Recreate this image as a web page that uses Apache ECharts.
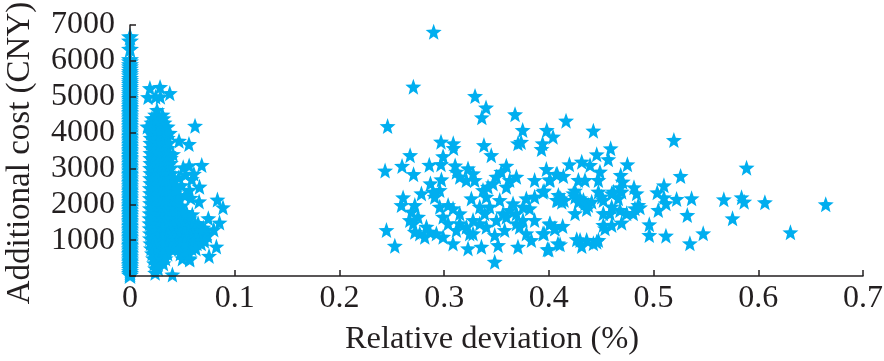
<!DOCTYPE html>
<html><head><meta charset="utf-8">
<style>html,body{margin:0;padding:0;background:#fff}#c{width:884px;height:361px}</style>
<script src="https://cdn.jsdelivr.net/npm/echarts@6/dist/echarts.min.js"></script>
</head><body><div id="c"></div>
<script>
const xTicks = [0,0.1,0.2,0.3,0.4,0.5,0.6,0.7];
const yTicks = [1000,2000,3000,4000,5000,6000,7000];
const zeroCosts = [6680,6560,6330,6040,5980,5900,5840,5780,5710,5650,5590,5520,5460,5400,5350,5290,5240,5180,5120,5070,5010,4960,4910,4860,4810,4760,4710,4670,4620,4570,4530,4480,4440,4390,4350,4300,4260,4210,4170,4120,4080,4030,3990,3940,3900,3850,3810,3770,3720,3680,3630,3590,3540,3500,3460,3410,3370,3320,3280,3240,3190,3150,3100,3060,3020,2970,2930,2880,2840,2800,2750,2710,2660,2620,2580,2530,2490,2440,2400,2360,2310,2270,2220,2180,2140,2090,2050,2000,1960,1920,1870,1830,1780,1740,1700,1650,1610,1560,1520,1480,1430,1390,1340,1300,1260,1210,1170,1120,1080,1040,990,950,900,860,820,770,730,680,640,600,550,510,460,420,380,330,290,240,190,130,80,30];
const blobRows = [
[5270,0.0287],[5240,0.019],[5100,0.038],[5000,0.0245,0.029],[4990,0.0172],
[4630,0.0258],[4500,0.024,0.031],[4400,0.021,0.026,0.032],
[4280,0.0205,0.024,0.028,0.033],[4170,0.0165,0.036],[4130,0.0198,0.023,0.027,0.031,0.034],[3990,0.0196,0.023,0.027,0.031,0.035,0.038],[3850,0.0198,0.024,0.028,0.032,0.036],
[3710,0.0195,0.023,0.027,0.031,0.035,0.037],[3570,0.0198,0.024,0.028,0.032,0.036],[3430,0.0195,0.023,0.027,0.031,0.035,0.037],[3290,0.0194,0.024,0.028,0.032,0.036,0.039],[3150,0.0195,0.023,0.027,0.031,0.035,0.039],
[3010,0.0192,0.023,0.027,0.031,0.035,0.039],[2870,0.0195,0.024,0.028,0.032,0.036,0.04],[2730,0.0192,0.023,0.027,0.031,0.035,0.039,0.042],[2590,0.0195,0.024,0.028,0.032,0.036,0.04],[2450,0.019,0.023,0.027,0.031,0.035,0.039,0.043],
[2310,0.0192,0.024,0.028,0.032,0.036,0.04,0.043],[2170,0.019,0.023,0.027,0.031,0.035,0.039,0.043,0.046],[2030,0.0192,0.024,0.028,0.032,0.036,0.04,0.044],[1890,0.019,0.023,0.027,0.031,0.035,0.039,0.043,0.047],
[1750,0.0188,0.024,0.028,0.032,0.036,0.04,0.044,0.048],[1610,0.0186,0.023,0.027,0.031,0.035,0.039,0.043,0.047,0.0515,0.057],[1470,0.0186,0.024,0.028,0.032,0.036,0.04,0.044,0.048,0.058,0.062,0.065],
[1400,0.041,0.046,0.051,0.055,0.06,0.065],
[1330,0.0188,0.023,0.027,0.031,0.035,0.039,0.043,0.047,0.051,0.055,0.059,0.063,0.067],[1260,0.044,0.05,0.056,0.062,0.068,0.072],[1190,0.019,0.024,0.028,0.032,0.036,0.04,0.044,0.048,0.052,0.056,0.06,0.064,0.068,0.0735],[1120,0.042,0.047,0.053,0.058,0.063,0.069,0.074],[1050,0.019,0.023,0.027,0.031,0.035,0.039,0.043,0.047,0.051,0.055,0.059,0.063,0.067,0.071],
[980,0.045,0.05,0.054,0.06,0.065,0.071],[910,0.0195,0.024,0.028,0.032,0.036,0.04,0.044,0.048,0.052,0.056,0.06,0.064,0.068],[770,0.02,0.023,0.027,0.031,0.035,0.039,0.043,0.047,0.051,0.055,0.059,0.063],[630,0.021,0.024,0.028,0.032,0.036,0.048,0.052,0.056],
[490,0.022,0.026,0.03,0.034,0.05,0.057],[350,0.023,0.027,0.032],[210,0.024,0.027],[90,0.024]
];
const innerOutliers = [
[0.0621,4190],[0.0468,3770],[0.0563,3680],[0.0411,3400],[0.0685,3095],[0.0565,3080],[0.0508,3030],[0.059,2700],[0.0664,2490],[0.0492,2530],[0.0568,2400],[0.053,2830],[0.061,2850],[0.066,2080],[0.058,2180],[0.0525,2250],[0.0495,1960],[0.0465,2750],[0.0455,2420],[0.054,1780],[0.0595,1720],
[0.0835,2130],[0.0888,1915],[0.0748,1610],[0.0855,1490],[0.0825,820],[0.0755,560],[0.057,460],[0.0405,40],[0.08,1300],[0.07,1350]
];
const farCluster = [
[0.290,6810],[0.2706,5280],[0.3295,5020],[0.340,4700],[0.336,4425],[0.3677,4510],[0.375,4070],[0.246,4180],[0.398,4070],[0.404,3885],[0.394,3700],[0.393,3540],
[0.297,3745],[0.3087,3700],[0.309,3570],[0.338,3650],[0.345,3370],[0.3705,3700],[0.3735,3740],[0.2675,3370],[0.299,3340],[0.2598,3070],[0.2858,3100],[0.297,3120],[0.2436,2940],[0.2708,2840],[0.3105,3080],
[0.3117,2907],[0.3228,3000],[0.3276,2861],[0.3149,2768],[0.3212,2675],[0.3292,2675],[0.3419,2489],[0.3371,2396],[0.3467,2582],[0.3403,2210],[0.3435,1931],[0.3387,1745],[0.3276,1559],[0.3212,1373],[0.334,1466],[0.3244,1187],[0.3483,1140],[0.3578,1280],
[0.3546,2907],[0.3594,3075],[0.3626,2675],[0.369,2768],[0.3864,2675],[0.3976,2982],[0.4071,2843],[0.4007,2675],[0.3944,2350],[0.3785,2164],[0.3864,2210],[0.4087,2117],[0.3658,2024],[0.369,1745],[0.3626,1838],[0.3817,1885],[0.3753,1559],[0.3864,1559],[0.3721,1373],[0.3785,1187],[0.3833,1001],[0.3944,1187],[0.4007,1447],[0.4055,1326],
[0.2869,2582],[0.2974,2693],[0.2783,2303],[0.2958,2396],[0.2894,2350],[0.291,2210],[0.2608,2191],[0.2592,1978],[0.272,1978],[0.2688,1792],[0.2751,1652],[0.2672,1559],[0.272,1233],[0.2831,1373],[0.2863,1233],[0.2815,1094],[0.2449,1280],[0.2529,843],
[0.326,2164],[0.3149,1745],[0.2958,1931],[0.3038,1978],[0.3085,1885],[0.299,1652],[0.3038,1466],[0.3117,1280],[0.299,1094],[0.3085,908],[0.3228,768],[0.3356,815],[0.3483,397],[0.3515,861],[0.3705,815],[0.40,740],[0.4087,908],
[0.3499,1559],[0.3531,2117],[0.3594,2489],[0.3499,2768],[0.3562,1745],[0.334,1931],[0.3149,1466],[0.2926,1187],[0.2704,1466],[0.2767,1187],[0.369,1466],[0.3594,1652],[0.3753,1931],[0.3276,1187],[0.3403,1373],
[0.4164,4332],[0.4425,4053],[0.5194,3793],[0.459,3560],[0.4457,3393],[0.4568,3254],[0.475,3114],[0.4314,3188],[0.4196,3114],[0.4393,3095],[0.4488,2910],[0.408,2845],[0.4139,2789],[0.4686,2817],[0.5258,2789],[0.5888,3021],[0.4011,2696],[0.4282,2677],[0.4345,2677],[0.4473,2677],[0.4705,2631],[0.5099,2528],[0.4813,2473],[0.4679,2473],[0.5035,2333],[0.4838,2305],[0.3954,2380],[0.425,2380],[0.4473,2352],[0.4616,2352],[0.4695,2352],
[0.4113,2166],[0.4091,2259],[0.4145,2120],[0.4075,2120],[0.4123,2073],[0.5099,2194],[0.522,2147],[0.5363,2166],[0.5671,2138],[0.584,2194],[0.5865,2073],[0.6063,2055],[0.6644,1999],[0.5118,2027],
[0.425,2212],[0.4298,2166],[0.433,2120],[0.4282,2073],[0.4345,2027],[0.4409,2073],[0.4377,1980],[0.4234,2305],[0.4504,2212],[0.46,2305],[0.4663,2166],[0.452,2120],[0.4854,1980],[0.4822,1887],[0.487,1915],[0.4361,1868],[0.425,1748],[0.5045,1841],[0.5322,1701],[0.452,1748],[0.46,1934],[0.4584,1748],[0.4679,1841],[0.4743,1748],[0.4806,1748],[0.5754,1608],
[0.4695,1487],[0.4959,1441],[0.452,1422],[0.46,1422],[0.4536,1329],[0.4011,1469],[0.4059,1330],[0.4132,1395],[0.3954,1190],[0.4959,1144],[0.5118,1125],[0.5474,1190],[0.6307,1218],[0.5347,911],[0.4298,1004],[0.4361,1004],[0.4457,958],[0.4314,837],[0.4425,911],[0.4266,1023],[0.4473,1004],[0.4107,883],[0.3986,744]
];
const xTitle = 'Relative deviation (%)';
const yTitle = 'Additional cost (CNY)';

const star = 'path://M50 0L62 33L98 35L70 57L79 91L50 72L21 91L30 57L2 35L38 33Z';
const ink = '#231f20', blue = '#00aeef', font = '"Liberation Serif"';
const blobPoints = [];
blobRows.forEach(r => r.slice(1).forEach(x => blobPoints.push([x, r[0]])));
const zeroPoints = zeroCosts.map(c => [0, c]);
const points = blobPoints.concat(innerOutliers, farCluster);

const chart = echarts.init(document.getElementById('c'), null, {renderer:'canvas'});
chart.setOption({
  animation:false,
  backgroundColor:'#fff',
  grid:{left:130,right:21,top:25,bottom:85,containLabel:false,outerBoundsMode:'none'},
  xAxis:{type:'value',min:0,max:0.7,interval:0.1,z:5,
    name:xTitle,nameLocation:'middle',nameGap:47,
    nameTextStyle:{fontFamily:font,fontSize:32.5,color:ink,padding:[0,9,0,0]},
    axisLine:{show:true,onZero:false,lineStyle:{color:ink,width:1.5}},
    axisTick:{show:true,inside:true,length:6,lineStyle:{color:ink,width:1.5}},
    axisLabel:{fontFamily:font,fontSize:32,color:ink,margin:7,
      formatter:v=>String(xTicks[Math.round(v*10)])},
    splitLine:{show:false}},
  yAxis:{type:'value',min:0,max:7000,interval:1000,z:5,
    name:yTitle,nameLocation:'middle',nameGap:93,nameRotate:90,
    nameTextStyle:{fontFamily:font,fontSize:33,color:ink,padding:[0,5,0,0]},
    axisLine:{show:true,onZero:false,lineStyle:{color:ink,width:1.5}},
    axisTick:{show:true,inside:true,length:6,lineStyle:{color:ink,width:1.5}},
    axisLabel:{fontFamily:font,fontSize:32,color:ink,margin:15,
      formatter:v=>yTicks.includes(v)?String(v):''},
    splitLine:{show:false}},
  series:[
    {type:'scatter',data:zeroPoints,symbol:star,symbolSize:18,clip:false,z:2,itemStyle:{color:blue,opacity:1}},
    {type:'scatter',data:points,symbol:star,symbolSize:16,clip:false,z:2,itemStyle:{color:blue,opacity:1}}
  ]
});
</script></body></html>
